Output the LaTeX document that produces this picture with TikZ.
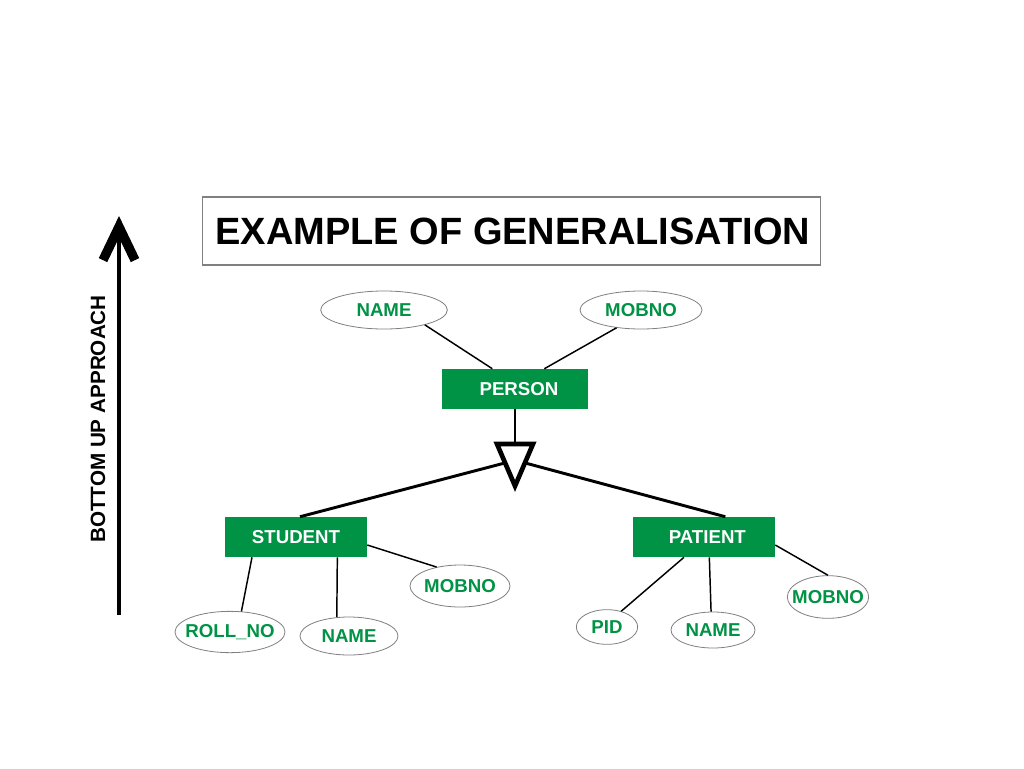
\documentclass[tikz,border=0pt]{standalone}
\usepackage{fontspec}
\setmainfont{Liberation Sans}
\usetikzlibrary{shapes.geometric,arrows.meta,calc}
\definecolor{ergreen}{RGB}{0,146,69}

\begin{document}
\begin{tikzpicture}[x=0.75pt,y=-0.75pt,
		entity/.style={rectangle, fill=ergreen, minimum width=106.5pt, minimum height=30pt, text=white, font=\fontsize{14}{16}\selectfont\bfseries},
		attr/.style={ellipse, draw=gray, line width=0.6pt, fill=white, inner sep=0pt, text=ergreen, font=\fontsize{14}{16}\selectfont\bfseries},
		link/.style={line width=1.1pt},
		isalink/.style={line width=2.2pt}]
			\useasboundingbox[fill=white] (0,0) rectangle (1024,768);

			\node[draw=gray, line width=0.8pt, minimum width=464pt, minimum height=51pt, font=\fontsize{28.5}{33}\selectfont\bfseries] (title) at (511.5,231) { \hspace{2pt}EXAMPLE OF GENERALISATION };

			\coordinate (upS) at (119,615);
			\coordinate (upN) at (119,216);
			\draw[line width=3pt, -{Straight Barb[length=25pt, width=24pt, line width=7pt]}] (upS) -- (upN);
			\node[rotate=90, font=\fontsize{15.5}{18}\selectfont\bfseries] (approach) at (98,419) { BOTTOM UP APPROACH };

			\node[entity, minimum width=109.5pt] (person) at (515,389) { \hspace{6pt}PERSON };
			\node[entity] (student) at (296,537) { STUDENT };
			\node[entity] (patient) at (704,537) { \hspace{5pt}PATIENT };

			\node[attr, minimum width=95pt, minimum height=28.5pt] (pname) at (384,310) { \makebox[0pt]{NAME} };
			\node[attr, minimum width=91.5pt, minimum height=28.5pt] (pmob) at (641,310) { \makebox[0pt]{MOBNO} };
			\node[attr, minimum width=82.5pt, minimum height=31pt] (sroll) at (230,632) { \makebox[0pt]{ROLL\_NO} };
			\node[attr, minimum width=73.5pt, minimum height=28.5pt] (sname) at (349,636) { \makebox[0pt]{NAME} };
			\node[attr, minimum width=75pt, minimum height=31.5pt] (smob) at (460,586) { \makebox[0pt]{MOBNO} };
			\node[attr, minimum width=46pt, minimum height=26pt] (tpid) at (607,627) { \makebox[0pt]{PID} };
			\node[attr, minimum width=63pt, minimum height=27pt] (tname) at (713,630) { \makebox[0pt]{NAME} };
			\node[attr, minimum width=61pt, minimum height=32pt] (tmob) at (828,597) { \makebox[0pt]{MOBNO} };

			\draw[link] ([xshift=-17pt]person.north) -- (pname.-20);
			\draw[link] ([xshift=22pt]person.north) -- (pmob.-144);
			\draw[link] ([xshift=-33pt]student.south) -- (sroll.61);
			\draw[link] ([xshift=31pt]student.south) -- (sname.123);
			\draw[link] ([yshift=-6pt]student.east) -- (smob.141);
			\draw[link] ([xshift=-15pt]patient.south) -- (tpid.48);
			\draw[link] ([xshift=4pt]patient.south) -- (tname.96);
			\draw[link] ([yshift=-6pt]patient.east) -- (tmob.north);

			\coordinate (isaL) at (497,444);
			\coordinate (isaR) at (533,444);
			\coordinate (isaB) at (515,486);
			\draw[link] (person.south) -- ($(isaL)!0.5!(isaR)$);
			\draw[isalink] ($(isaL)!0.45!(isaB)$) -- ([xshift=3pt]student.north);
			\draw[isalink] ($(isaR)!0.45!(isaB)$) -- ([xshift=16pt]patient.north);
			\draw[line width=3.5pt, fill=white, line join=miter] (isaL) -- (isaR) -- (isaB) -- cycle;
		\end{tikzpicture}
\end{document}
